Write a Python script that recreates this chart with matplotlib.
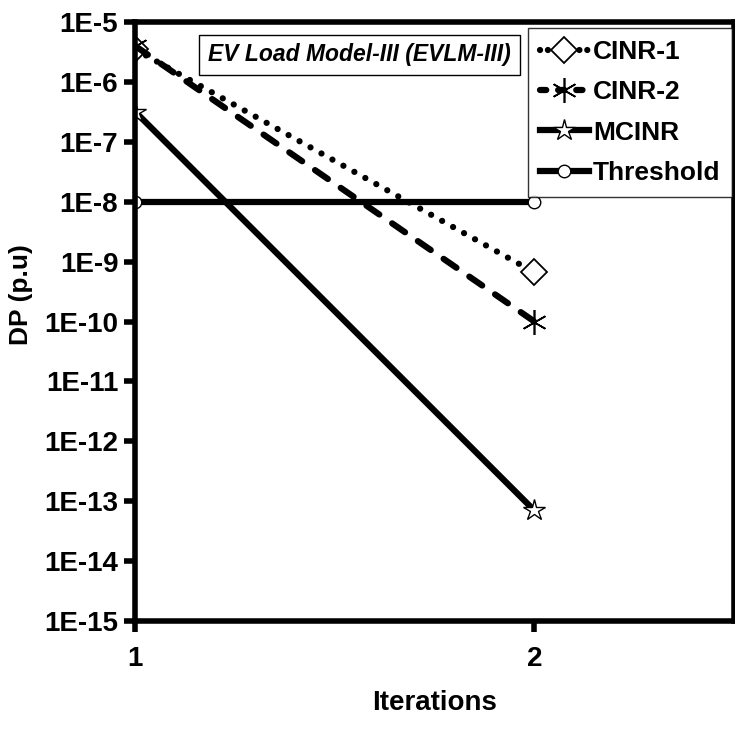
import numpy as np
import matplotlib.pyplot as plt
from matplotlib.lines import Line2D

plt.rcParams['font.family'] = ['Liberation Sans', 'DejaVu Sans']
plt.rcParams['font.weight'] = 'bold'

iterations = [1, 2]
cinr1 = [3.5e-6, 6.6e-10]
cinr2 = [4.0e-6, 1.0e-10]
mcinr = [3.2e-7, 7.0e-14]
threshold = [1e-8, 1e-8]
yticks = [10.0 ** -k for k in range(5, 16)]
ylabels = ['1E-%d' % k for k in range(5, 16)]

fig = plt.figure(figsize=(7.35, 7.31), dpi=100)
ax = fig.add_axes([135 / 735, 1 - 621 / 731, 599 / 735, 599 / 731])

st1 = dict(color='black', lw=4.5, dash_capstyle='round', marker='D', markersize=13,
           mfc='white', mec='black', mew=1.3)
st2 = dict(color='black', lw=4.5, dash_capstyle='round', marker=(6, 2, 0), markersize=18,
           mec='black', mew=1.2)
st3 = dict(color='black', lw=4.5, marker='*', markersize=16, mfc='white', mec='black', mew=1.0)
st4 = dict(color='black', lw=4.5, marker='o', markersize=9, mfc='white', mec='black', mew=1.0)

ax.plot(iterations, cinr1, linestyle=(0, (0.01, 2.0)), **st1)
ax.plot(iterations, cinr2, linestyle=(0, (2.5, 2.5)), **st2)
ax.plot(iterations, mcinr, **st3)
ax.plot(iterations, threshold, **st4)

ax.set_yscale('log')
ax.set_xlim(1, 2.5)
ax.set_ylim(1e-15, 1e-5)
ax.set_xticks([1, 2])
ax.set_yticks(yticks)
ax.set_yticklabels(ylabels)
ax.minorticks_off()
ax.tick_params(axis='both', direction='out', length=8, width=4, labelsize=20, pad=4)
ax.tick_params(axis='x', pad=10)
for s in ax.spines.values():
    s.set_linewidth(4)

ax.set_xlabel('Iterations', fontsize=20, fontweight='bold', labelpad=13)
ax.set_ylabel('DP (p.u)', fontsize=19, fontweight='bold')
ax.yaxis.set_label_coords(-0.17, 0.545)

ax.text(0.122, 0.945, 'EV Load Model-III (EVLM-III)', transform=ax.transAxes,
        fontsize=16.5, fontstyle='italic', fontweight='bold', va='center', ha='left',
        bbox=dict(boxstyle='square,pad=0.38', fc='white', ec='black', lw=1))

# legend proxies with shorter dash patterns so they read like the original key
handles = [Line2D([], [], linestyle=(0, (0.01, 1.25)), **st1),
           Line2D([], [], linestyle=(0, (1.0, 1.9)), **st2),
           Line2D([], [], **st3),
           Line2D([], [], **st4)]
labels = ['CINR-1', 'CINR-2', 'MCINR', 'Threshold']
leg = ax.legend(handles, labels, loc='upper right', bbox_to_anchor=(0.997, 0.99), fontsize=19,
                handlelength=1.85, handletextpad=0.15, borderpad=0.45, labelspacing=0.62,
                borderaxespad=0, frameon=True, fancybox=False, edgecolor='black')
leg.get_frame().set_linewidth(1)

fig.savefig('out.png', dpi=100)
